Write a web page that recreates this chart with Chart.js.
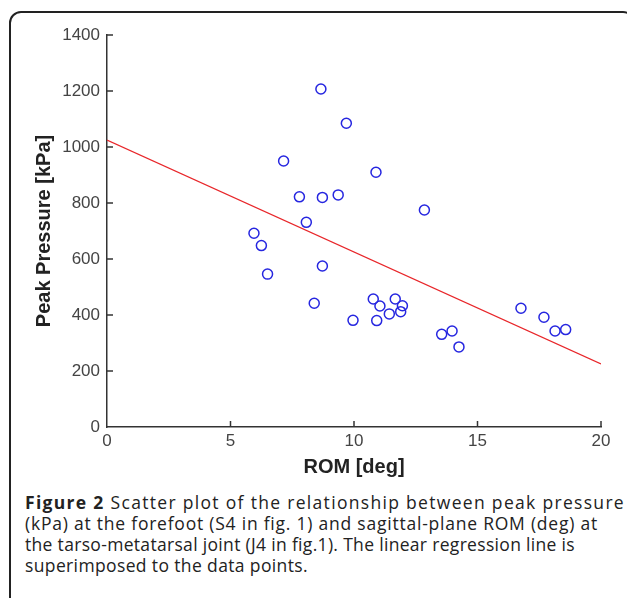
<!DOCTYPE html>
<html>
  <head>
    <script src="https://cdn.jsdelivr.net/npm/chart.js@4.4.0/dist/chart.umd.min.js"></script>
    <style>
      body {
        margin: 0;
        background-color: white;
        width: 627px;
        height: 598px;
        overflow: hidden;
        position: relative;
      }
      #frame {
        position: absolute;
        left: 9px;
        top: 11px;
        width: 626px;
        height: 620px;
        border: 2px solid #222;
        border-radius: 12px;
        box-sizing: border-box;
      }
      #myChart {
        position: absolute;
        left: 0;
        top: 0;
      }
      #caption {
        position: absolute;
        left: 25px;
        top: 492px;
        font-family: "Open Sans", sans-serif;
        font-size: 17.5px;
        line-height: 21px;
        color: #222;
        white-space: nowrap;
      }
      .capline span { display: inline-block; }
    </style>
  </head>
  <body>
    <div id="frame"></div>
    <canvas id="myChart" width="627" height="480"></canvas>
    <div id="caption">
      <div class="capline"><span><b>Figure 2</b> Scatter plot of the relationship between peak pressure</span></div>
      <div class="capline"><span>(kPa) at the forefoot (S4 in fig. 1) and sagittal-plane ROM (deg) at</span></div>
      <div class="capline"><span>the tarso-metatarsal joint (J4 in fig.1). The linear regression line is</span></div>
      <div class="capline"><span>superimposed to the data points.</span></div>
    </div>
  <script>
    // measured points: ROM (deg) and peak pressure (kPa)
    let romDeg = [8.66, 7.15, 7.79, 8.72, 9.36, 8.07, 5.95, 6.25, 6.50, 8.39,
                  8.72, 9.69, 10.89, 12.85, 9.96, 10.78, 11.05, 10.92, 11.43, 11.67,
                  11.96, 11.89, 13.55, 13.97, 14.25, 16.76, 17.69, 18.14, 18.57];
    let peakKpa = [1207, 950, 822, 820, 829, 731, 692, 648, 546, 442,
                   575, 1085, 910, 775, 381, 457, 432, 380, 404, 457,
                   433, 412, 331, 343, 286, 424, 392, 343, 348];

    // regression line end points
    let fitX = [0, 20];
    let fitY = [1025, 225];

    let xTicks = [0, 5, 10, 15, 20];
    let yTicks = [0, 200, 400, 600, 800, 1000, 1200, 1400];

    let scatterPts = romDeg.map(function (r, i) { return {x: r, y: peakKpa[i]}; });
    let fitPts = fitX.map(function (v, i) { return {x: v, y: fitY[i]}; });

    // stretch each caption line to the width it has in the printed figure
    let captionWidths = [600, 573, 550, 283];
    function fitCaption() {
      var lines = document.querySelectorAll('.capline span');
      lines.forEach(function (el, i) {
        el.style.letterSpacing = '0px';
        var w = el.getBoundingClientRect().width;
        var n = el.textContent.length;
        if (w > 0) el.style.letterSpacing = ((captionWidths[i] - w) / n) + 'px';
      });
    }
    fitCaption();

    // matlab style ticks pointing into the plot
    const inwardTicks = {
      id: 'inwardTicks',
      afterDraw(chart) {
        const ctx = chart.ctx;
        const xs = chart.scales.x, ys = chart.scales.y;
        ctx.save();
        ctx.strokeStyle = '#333';
        ctx.lineWidth = 1.5;
        xTicks.forEach(function (t) {
          if (t === 0) return;
          let px = xs.getPixelForValue(t);
          ctx.beginPath();
          ctx.moveTo(px, xs.top);
          ctx.lineTo(px, xs.top - 6);
          ctx.stroke();
        });
        yTicks.forEach(function (t) {
          if (t === 0) return;
          let py = ys.getPixelForValue(t);
          ctx.beginPath();
          ctx.moveTo(ys.right, py);
          ctx.lineTo(ys.right + 6, py);
          ctx.stroke();
        });
        ctx.restore();
      }
    };

    var tickFont = {family: "'Liberation Sans', Arial, sans-serif", size: 17};
    var titleFont = {family: "'Liberation Sans', Arial, sans-serif", size: 20, weight: 'bold'};
    var plain = function (v) { return String(v); };

    var ctx = document.getElementById('myChart').getContext('2d');
    var myChart = new Chart(ctx, {
      type: 'scatter',
      data: {
        datasets: [
          {
            label: 'Regression',
            type: 'line',
            data: fitPts,
            borderColor: '#e8262a',
            borderWidth: 1.2,
            pointRadius: 0,
            fill: false
          },
          {
            label: 'Subjects',
            data: scatterPts,
            pointRadius: 5,
            pointBorderWidth: 1.5,
            pointBorderColor: '#2626e0',
            pointBackgroundColor: 'rgba(0,0,0,0)'
          }
        ]
      },
      options: {
        responsive: false,
        animation: false,
        layout: {padding: {left: 0, top: 35, right: 26, bottom: 0}},
        plugins: {legend: {display: false}, tooltip: {enabled: false}},
        scales: {
          x: {
            type: 'linear',
            min: 0,
            max: 20,
            afterBuildTicks: function (s) { s.ticks = xTicks.map(function (v) { return {value: v}; }); },
            afterFit: function (s) { s.height = 53; },
            grid: {display: false, drawTicks: false},
            border: {display: true, color: '#333', width: 1.5},
            ticks: {color: '#444', font: tickFont, padding: 4, maxRotation: 0, callback: plain},
            title: {display: true, text: 'ROM [deg]', color: '#222', font: titleFont, padding: {top: 0, bottom: 1}}
          },
          y: {
            min: 0,
            max: 1400,
            afterBuildTicks: function (s) { s.ticks = yTicks.map(function (v) { return {value: v}; }); },
            afterFit: function (s) { s.width = 107; },
            grid: {display: false, drawTicks: false},
            border: {display: true, color: '#333', width: 1.5},
            ticks: {color: '#444', font: tickFont, padding: 7, callback: plain},
            title: {display: true, text: 'Peak Pressure [kPa]', color: '#222', font: titleFont, padding: {top: 32, bottom: 0}}
          }
        }
      },
      plugins: [inwardTicks]
    });
  </script>
  </body>
</html>
